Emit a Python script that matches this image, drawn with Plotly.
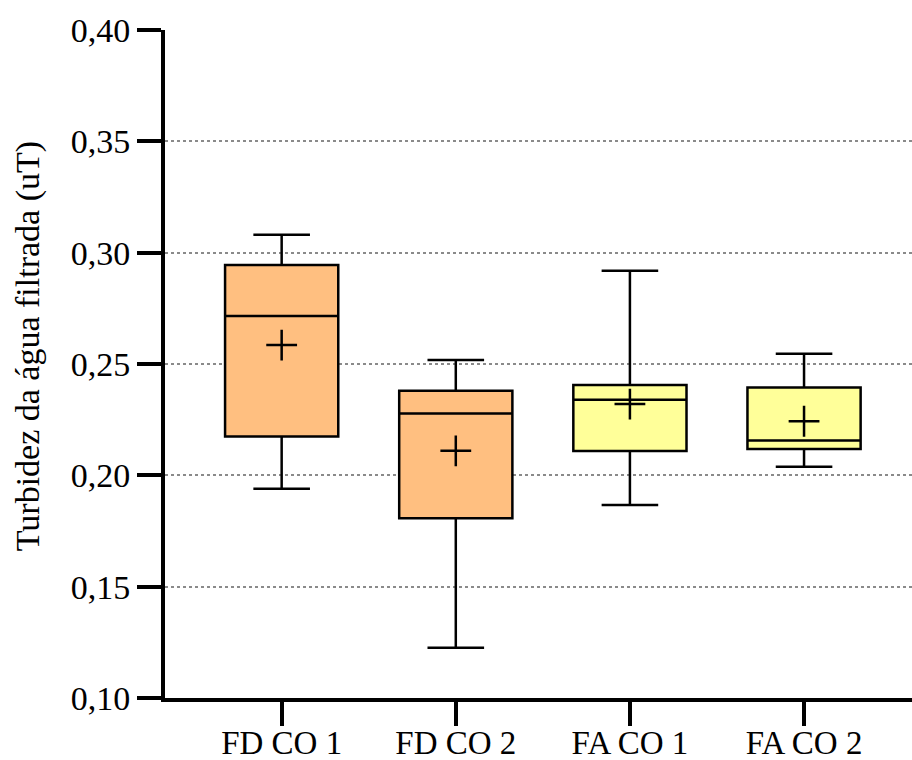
import plotly.graph_objects as go

categories = ["FD CO 1", "FD CO 2", "FA CO 1", "FA CO 2"]
lower_whisker = [0.194, 0.1226, 0.1867, 0.2039]
q1_values = [0.2174, 0.1807, 0.2109, 0.2118]
median_values = [0.2716, 0.2278, 0.2340, 0.2156]
q3_values = [0.2945, 0.2380, 0.2406, 0.2395]
upper_whisker = [0.308, 0.2518, 0.2919, 0.2546]
mean_values = [0.2585, 0.2110, 0.2320, 0.2243]
fill_colors = ["#FFBF80", "#FFBF80", "#FFFF99", "#FFFF99"]
y_ticks = [0.10, 0.15, 0.20, 0.25, 0.30, 0.35, 0.40]
y_title = "Turbidez da água filtrada (uT)"

SERIF = "Times New Roman"

fig = go.Figure()
for i, cat in enumerate(categories):
    fig.add_trace(go.Box(
        x=[i], q1=[q1_values[i]], median=[median_values[i]], q3=[q3_values[i]],
        lowerfence=[lower_whisker[i]], upperfence=[upper_whisker[i]],
        fillcolor=fill_colors[i], line=dict(color="black", width=2.5),
        width=0.65, whiskerwidth=0.5, boxpoints=False, showlegend=False,
        hoverinfo="skip",
    ))

fig.add_trace(go.Scatter(
    x=list(range(len(categories))), y=mean_values, mode="markers",
    marker=dict(symbol="cross-thin", size=22, line=dict(color="black", width=2.5)),
    showlegend=False, hoverinfo="skip",
))

fig.add_annotation(
    x=-0.183, y=0.527, xref="paper", yref="paper", showarrow=False,
    text=y_title, textangle=-90, xanchor="center", yanchor="middle",
    font=dict(family=SERIF, size=34, color="black"),
)

fig.update_layout(
    width=912, height=760,
    margin=dict(l=165, r=0, t=30, b=62),
    paper_bgcolor="white", plot_bgcolor="white",
    xaxis=dict(
        range=[-0.67, 3.62], tickmode="array",
        tickvals=list(range(len(categories))), ticktext=categories,
        showgrid=False, zeroline=False, automargin=False,
        showline=True, linecolor="black", linewidth=4,
        ticks="outside", ticklen=24, tickwidth=4, tickcolor="black",
        ticklabelstandoff=-12,
        tickfont=dict(size=33, family=SERIF, color="black"),
    ),
    yaxis=dict(
        range=[0.10, 0.40], tickmode="array", tickvals=y_ticks,
        ticktext=[f"{v:.2f}".replace(".", ",") for v in y_ticks],
        showgrid=True, gridcolor="#8a8a8a", gridwidth=1.5, griddash="3px,3px",
        zeroline=False, automargin=False,
        showline=True, linecolor="black", linewidth=4,
        ticks="outside", ticklen=24, tickwidth=4, tickcolor="black",
        tickfont=dict(size=34, family=SERIF, color="black"),
    ),
)

fig.write_html("out.html")
